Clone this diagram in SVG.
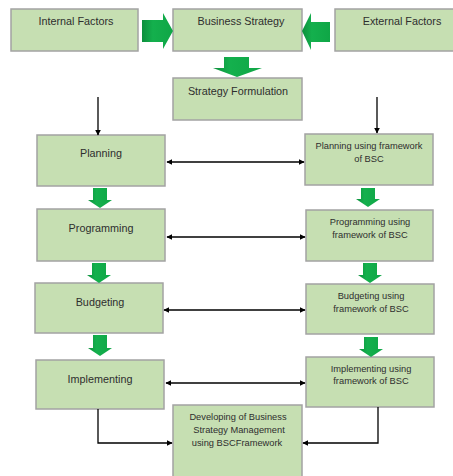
<svg xmlns="http://www.w3.org/2000/svg" width="453" height="476" viewBox="0 0 453 476">
<style>
.box{fill:#c6dfb2;stroke:#a3a3a3;stroke-width:1.5}
.t{font-family:"Liberation Sans",Arial,sans-serif;font-size:10.8px;fill:#2e2e2e;text-anchor:middle}
.s{font-size:9.3px}
.g{fill:url(#gg)}
.c{fill:none;stroke:#000;stroke-width:1.3}
</style>
<defs>
<linearGradient id="gg" x1="0" y1="0" x2="1" y2="0">
<stop offset="0" stop-color="#0c8f3c"/>
<stop offset="0.35" stop-color="#14b04d"/>
<stop offset="1" stop-color="#0fa646"/>
</linearGradient>
<marker id="ah" viewBox="0 0 10 10" refX="9" refY="5" markerWidth="6" markerHeight="6" markerUnits="userSpaceOnUse" orient="auto-start-reverse">
<path d="M0,0 L10,5 L0,10 z" fill="#000"/>
</marker>
</defs>
<rect width="453" height="476" fill="#fff"/>

<g id="internal"><rect class="box" x="11" y="9" width="127" height="42"/><text class="t" x="76" y="25">Internal Factors</text></g>
<g id="business"><rect class="box" x="173" y="9" width="129" height="42"/><text class="t" x="241" y="25">Business Strategy</text></g>
<g id="external"><rect class="box" x="335" y="9" width="128" height="42"/><text class="t" x="402" y="25">External Factors</text></g>
<g id="formulation"><rect class="box" x="173" y="78" width="129" height="42"/><text class="t" x="238" y="95">Strategy Formulation</text></g>

<g id="planning"><rect class="box" x="37" y="135" width="128" height="51"/><text class="t" x="101" y="157">Planning</text></g>
<g id="planning-bsc"><rect class="box" x="305" y="134" width="128" height="51"/><text class="t s" x="369" y="149">Planning using framework</text><text class="t s" x="369" y="162">of BSC</text></g>
<g id="programming"><rect class="box" x="37" y="209" width="128" height="52"/><text class="t" x="101" y="232">Programming</text></g>
<g id="programming-bsc"><rect class="box" x="306" y="210" width="127" height="51"/><text class="t s" x="370" y="225">Programming using</text><text class="t s" x="370" y="238">framework of BSC</text></g>
<g id="budgeting"><rect class="box" x="35" y="283" width="128" height="50"/><text class="t" x="100" y="306">Budgeting</text></g>
<g id="budgeting-bsc"><rect class="box" x="306" y="284" width="128" height="50"/><text class="t s" x="371" y="299">Budgeting using</text><text class="t s" x="371" y="312">framework of BSC</text></g>
<g id="implementing"><rect class="box" x="36" y="360" width="128" height="49"/><text class="t" x="100" y="383">Implementing</text></g>
<g id="implementing-bsc"><rect class="box" x="306" y="357" width="128" height="50"/><text class="t s" x="371" y="372">Implementing using</text><text class="t s" x="371" y="384">framework of BSC</text></g>
<g id="developing"><rect class="box" x="173" y="405" width="129" height="75"/><text class="t s" x="238" y="420">Developing of Business</text><text class="t s" x="239" y="433">Strategy Management</text><text class="t s" x="237" y="446">using BSCFramework</text></g>

<g id="connectors">
<path class="g" d="M142,20 H163 V13 L173,31 L163,49 V42 H142 Z"/>
<path class="g" d="M330,22 H311 V13 L302,31 L311,50 V42 H330 Z"/>
<path class="g" d="M224,57 H249 V68 H262 L237,77 L213,68 H224 Z"/>
<path class="g" d="M93,188 H107 V200 H112 L100,208 L88,200 H93 Z"/>
<path class="g" d="M361,188 H375 V199 H380 L368,207 L356,199 H361 Z"/>
<path class="g" d="M92,263 H106 V275 H111 L99,283 L87,275 H92 Z"/>
<path class="g" d="M363,263 H377 V275 H382 L370,283 L358,275 H363 Z"/>
<path class="g" d="M93,335 H107 V348 H112 L100,356 L88,348 H93 Z"/>
<path class="g" d="M364,337 H378 V349 H383 L371,357 L359,349 H364 Z"/>

<path class="c" d="M98,97 V135" marker-end="url(#ah)"/>
<path class="c" d="M377,97 V133" marker-end="url(#ah)"/>
<path class="c" d="M167,162 H304" marker-start="url(#ah)" marker-end="url(#ah)"/>
<path class="c" d="M167,237 H305" marker-start="url(#ah)" marker-end="url(#ah)"/>
<path class="c" d="M164,310 H305" marker-start="url(#ah)" marker-end="url(#ah)"/>
<path class="c" d="M166,383 H305" marker-start="url(#ah)" marker-end="url(#ah)"/>
<path class="c" d="M98,409 V443 H172" marker-end="url(#ah)"/>
<path class="c" d="M378,407 V443 H303" marker-end="url(#ah)"/>
</g>
</svg>
